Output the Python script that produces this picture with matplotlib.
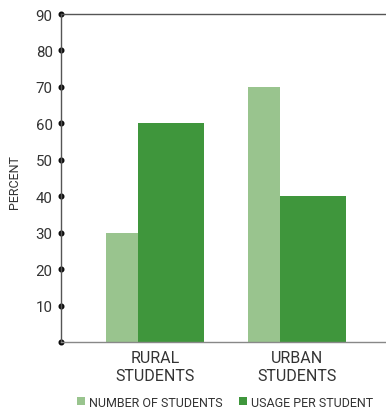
import matplotlib.pyplot as plt
import numpy as np

plt.rcParams['font.family'] = ['Roboto', 'DejaVu Sans']

groups = ['RURAL\nSTUDENTS', 'URBAN\nSTUDENTS']
num_students = [30, 70]
usage_per_student = [60, 40]
yticks = [0, 10, 20, 30, 40, 50, 60, 70, 80, 90]
ytick_labels = ['', '10', '20', '30', '40', '50', '60', '70', '80', '90']

light = '#99c48e'
dark = '#3f963c'
text_col = '#333333'

fig = plt.figure(figsize=(3.86, 4.10), dpi=100)
ax = fig.add_axes([0.158, 0.1634, 0.842, 0.8])

x = np.arange(len(groups))
ax.bar(x - 0.232, num_students, width=0.225, color=light, label='NUMBER OF STUDENTS')
ax.bar(x + 0.113, usage_per_student, width=0.465, color=dark, label='USAGE PER STUDENT')

ax.set_xlim(-0.662, 1.627)
ax.set_ylim(0, 90)

ax.set_xticks(x)
ax.set_xticklabels(groups, fontsize=11.5, color=text_col, linespacing=1.2)
ax.tick_params(axis='x', length=0, pad=6)

ax.set_yticks(yticks)
ax.set_yticklabels(ytick_labels, fontsize=10.8, color=text_col)
ax.tick_params(axis='y', length=0, pad=6)
for t in ax.yaxis.get_major_ticks():
    t.tick1line.set_marker('o')
    t.tick1line.set_markersize(3.5)
    t.tick1line.set_color('#111111')
    t.tick1line.set_visible(True)
    t.tick1line.set_clip_on(False)

ax.set_ylabel('PERCENT', fontsize=9, color=text_col)
ax.yaxis.set_label_coords(-0.122, 0.49)

ax.spines['right'].set_visible(False)
ax.spines['left'].set_color('#555555')
ax.spines['top'].set_color('#555555')
ax.spines['bottom'].set_color('#888888')
for s in ['left', 'top', 'bottom']:
    ax.spines[s].set_linewidth(1.0)

leg = ax.legend(loc='center', bbox_to_anchor=(0.505, -0.183), ncol=2,
                frameon=False, fontsize=9, handlelength=0.65, handleheight=0.65,
                handletextpad=0.35, columnspacing=1.3, borderaxespad=0)
for t in leg.get_texts():
    t.set_color(text_col)

fig.savefig('out.png', dpi=100)
